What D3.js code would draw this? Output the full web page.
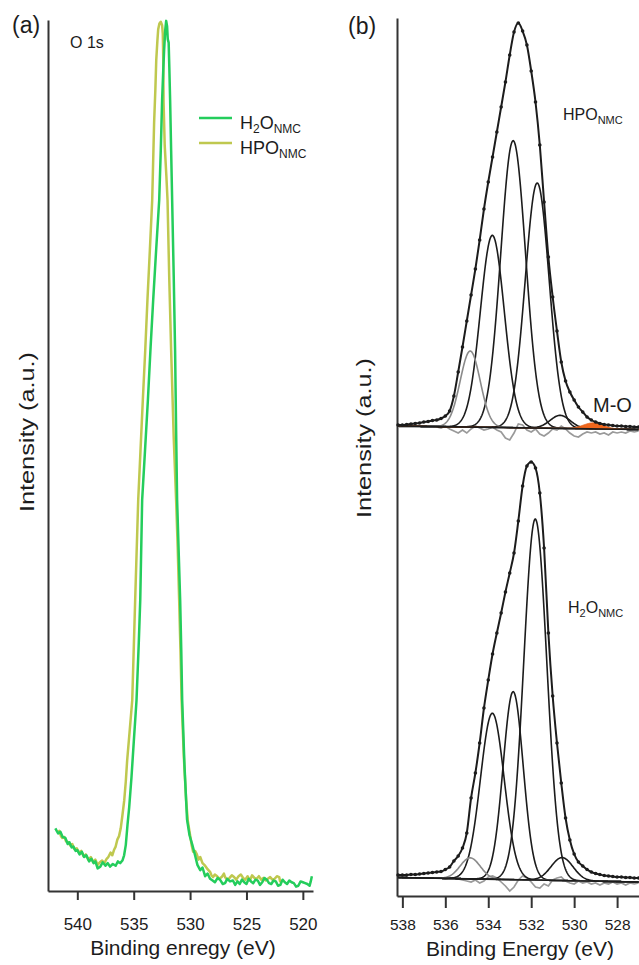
<!DOCTYPE html>
<html>
<head>
<meta charset="utf-8">
<script src="https://cdn.jsdelivr.net/npm/d3@7"></script>
<style>
  html, body { margin: 0; padding: 0; background: #fff; }
  svg { display: block; }
</style>
</head>
<body>
<svg id="fig" width="639" height="965"></svg>
<script>
// ---------- Panel (a): O 1s spectra of both electrodes ----------
const energyH2O = [541.95,541.7,541.5,541.3,541.06,540.85,540.7,540.5,540.35,540.15,540.0,539.8,539.6,539.4,539.2,538.95,538.75,538.55,538.4,538.2,537.96,537.75,537.5,537.3,537.1,536.85,536.6,536.4,536.2,536.0,535.85,535.7,535.55,535.4,535.2,535.0,534.75,534.55,534.42,534.25,534.0,533.74,533.5,533.27,533.0,532.74,532.6,532.48,532.38,532.3,532.2,532.12,532.04,531.98,531.9,531.84,531.77,531.68,531.59,531.45,531.33,531.24,531.15,531.0,530.88,530.78,530.7,530.5,530.27,530.05,529.8,529.56,529.35,529.1,528.9,528.67,528.45,528.23,528.0,527.8,527.55,527.35,527.1,526.9,526.7,526.46,526.2,526.0,525.8,525.6,525.4,525.2,525.0,524.8,524.6,524.4,524.2,524.0,523.8,523.6,523.4,523.2,523.0,522.8,522.6,522.4,522.2,522.0,521.8,521.6,521.4,521.2,521.0,520.8,520.6,520.4,520.2,520.0,519.8,519.6,519.4,519.3,519.2];
const intensityH2O = [7.2,6.6,6.8,6.2,6.1,5.4,5.6,5.0,5.1,4.6,4.7,4.2,4.5,3.9,4.1,3.4,3.7,3.2,3.4,2.6,2.8,3.3,2.9,3.2,2.8,3.1,2.9,3.4,3.2,3.5,4.1,5.3,7.6,9.6,13.0,17.0,21.9,28.5,33.4,44.9,50.5,56.4,62.5,67.9,73.8,79.3,85.0,90.8,94.2,96.6,98.9,99.9,99.3,97.8,97.4,94.5,90.8,85.0,79.3,70.5,62.1,53.0,44.9,38.5,33.4,27.5,21.9,14.5,8.2,6.4,5.3,4.1,3.0,2.4,2.7,1.7,2.0,1.4,1.2,1.0,1.5,1.3,0.8,0.9,1.4,1.1,1.2,0.7,1.1,0.8,1.3,1.0,0.8,1.4,1.1,0.9,1.3,1.2,0.7,1.0,1.5,1.3,0.9,0.8,1.2,1.1,0.6,0.7,1.3,1.0,0.8,1.2,1.0,0.9,0.5,0.6,1.1,1.0,0.9,0.8,0.6,1.1,1.7];

const energyHPO = [541.77,541.6,541.45,541.33,541.15,541.0,540.8,540.6,540.45,540.25,540.05,539.85,539.65,539.45,539.25,539.03,538.8,538.6,538.4,538.2,538.0,537.8,537.6,537.4,537.25,537.05,536.9,536.75,536.6,536.45,536.3,536.15,536.0,535.84,535.7,535.58,535.35,535.13,534.87,534.6,534.4,534.19,533.98,533.78,533.57,533.36,533.19,533.08,533.0,532.9,532.83,532.72,532.6,532.48,532.42,532.38,532.35,532.25,532.1,532.0,531.85,531.68,531.45,531.24,531.1,530.97,530.85,530.75,530.55,530.35,530.2,530.0,529.85,529.73,529.55,529.4,529.25,529.1,528.9,528.67,528.45,528.23,528.1,527.96,527.8,527.6,527.4,527.2,527.0,526.9,526.7,526.5,526.3,526.1,525.9,525.7,525.5,525.3,525.1,524.9,524.7,524.5,524.3,524.1,523.9,523.7,523.5,523.3,523.1,522.9,522.7,522.5,522.3,522.1,522.0];
const intensityHPO = [6.7,6.9,6.3,6.1,6.2,5.7,5.6,5.2,5.4,4.8,4.9,4.4,4.6,4.0,4.2,3.6,3.9,3.3,3.6,3.0,3.3,3.5,3.2,3.7,3.9,4.4,4.1,4.7,5.1,5.9,6.3,7.2,8.7,10.4,12.6,15.0,18.5,21.9,33.4,44.9,50.5,56.4,62.0,67.9,73.5,79.3,88.2,92.0,95.4,97.6,98.9,99.6,99.8,99.4,98.4,95.5,90.5,85.6,82.0,79.3,70.5,62.1,52.0,44.9,39.5,33.4,27.5,21.9,15.3,10.4,8.0,6.4,5.2,4.5,4.6,4.2,3.6,3.9,3.2,2.9,2.5,2.2,1.8,1.6,1.9,1.7,1.4,1.6,2.0,1.6,1.3,1.5,1.8,1.6,1.3,1.7,1.9,1.5,1.3,1.7,1.2,1.8,1.5,1.4,1.7,1.3,1.5,1.2,1.4,1.6,1.3,1.4,1.7,1.6,1.0];

const ticksA = [540, 535, 530, 525, 520];

// ---------- Panel (b): fitted O 1s spectra ----------
const energyFit = [538.2,538.0,537.8,537.6,537.4,537.2,537.0,536.8,536.6,536.4,536.2,536.0,535.8,535.6,535.4,535.2,535.0,534.8,534.6,534.4,534.2,534.0,533.8,533.6,533.4,533.2,533.0,532.8,532.6,532.4,532.2,532.0,531.8,531.6,531.4,531.2,531.0,530.8,530.6,530.4,530.2,530.0,529.8,529.6,529.4,529.2,529.0,528.8,528.6,528.4,528.2,528.0,527.8,527.6,527.4,527.2,527.0];

const envelopeHPO = [0.2,0.2,0.25,0.3,0.35,0.4,0.5,0.55,0.65,0.7,0.85,1.1,1.6,3.1,5.5,8.0,10.6,13.2,15.8,18.7,21.8,24.5,27.0,29.5,32.0,34.5,37.2,39.5,40.4,39.6,38.2,35.6,32.5,28.2,22.5,17.0,13.0,9.6,6.5,4.6,3.5,2.7,2.0,1.5,1.0,0.7,0.5,0.35,0.25,0.2,0.15,0.1,0.1,0.05,0.05,0,0];
const residualHPO = [0,0,0,0,0,0,0,0,0,0,-0.1,0.1,-0.2,-0.4,-0.6,-0.3,-0.6,-0.2,0.1,-0.1,-0.3,-0.2,0.0,-0.3,-0.5,-1.1,-1.3,-0.6,0.3,0.2,-0.3,-0.5,-0.2,-0.7,-0.9,-0.6,-0.2,-0.3,0.1,-0.2,-0.6,-0.9,-1.0,-0.7,-0.5,-0.6,-0.5,-0.7,-0.6,-0.8,-0.5,-0.6,-0.5,-0.6,-0.4,-0.5,-0.4];
const centresHPO = [532.84, 531.72, 533.81, 534.84, 530.65];
const heightsHPO = [28.7, 24.5, 19.2, 7.6, 1.3];
const fwhmHPO = [1.36, 1.31, 1.31, 1.1, 1.1];
const metalOxideHPO = { centre: 529.1, height: 0.6, fwhm: 1.1 };

const envelopeH2O = [0.3,0.3,0.3,0.35,0.35,0.4,0.45,0.5,0.55,0.6,0.65,0.85,1.1,1.7,2.2,3.0,4.5,8.0,10.5,13.5,17.0,19.8,22.4,24.5,26.5,28.6,30.5,32.5,35.7,39.2,41.2,41.6,41.0,38.5,33.0,24.5,18.2,13.5,9.5,6.0,3.8,2.4,1.6,1.2,0.85,0.6,0.45,0.35,0.25,0.2,0.15,0.1,0.1,0.05,0.05,0,0];
const residualH2O = [0,0,0,0,0,0,0,0,0,0,0,-0.1,0,0,-0.1,-0.2,-0.3,-0.4,-0.2,-0.5,-0.3,0.1,0.2,0.0,-0.4,-0.8,-1.3,-0.9,-0.2,0.2,0.0,-0.4,-0.9,-1.0,-0.6,-0.8,-0.2,0.0,0.1,-0.3,-0.5,-0.6,-0.3,-0.5,-0.4,-0.6,-0.5,-0.7,-0.5,-0.6,-0.4,-0.6,-0.5,-0.7,-0.5,-0.6,-0.5];
const centresH2O = [531.81, 532.84, 533.81, 534.84, 530.56];
const heightsH2O = [36.1, 18.8, 16.6, 2.1, 2.3];
const fwhmH2O = [1.26, 1.1, 1.3, 1.1, 1.2];

// vertical stacking of the two spectra and their Shirley-type background end values
const stackOffsets = [46.9, 1.8];            // HPO, H2O
const backgroundHPO = [0.1, -0.25];          // at 538.2 eV and 527.0 eV
const backgroundH2O = [0.05, -0.4];
const ticksB = [538, 536, 534, 532, 530, 528];

// ---------- drawing ----------
const FONT = "'Liberation Sans', Arial, Helvetica, sans-serif";
const INK = "#1c1c1c";
const AXIS = "#333";
const GREEN = "#24cd5c";
const OLIVE = "#bfc84f";
const svg = d3.select("#fig").attr("font-family", FONT);

function styleAxis(g, fs) {
  g.attr("font-family", FONT);
  g.select(".domain").attr("stroke", AXIS).attr("stroke-width", 2);
  g.selectAll(".tick line").attr("stroke", AXIS).attr("stroke-width", 2);
  g.selectAll(".tick text").attr("font-size", fs).attr("fill", INK);
}

// ----- panel (a) -----
const xA = d3.scaleLinear().domain([542.6, 519.1]).range([48, 313]);
const yA = d3.scaleLinear().domain([0, 100]).range([891, 20]);

svg.append("g").attr("transform", "translate(0,891)")
  .call(d3.axisBottom(xA).tickValues(ticksA).tickSize(9).tickSizeOuter(0).tickPadding(18).tickFormat(d3.format("d")))
  .call(g => styleAxis(g, 17));
svg.append("g").attr("transform", "translate(48,0)")
  .call(d3.axisLeft(yA).tickValues([]).tickSizeOuter(0))
  .call(g => styleAxis(g, 17));

const lineA = d3.line().x(d => xA(d[0])).y(d => yA(d[1]));
svg.append("path").datum(d3.zip(energyHPO, intensityHPO))
  .attr("d", lineA).attr("fill", "none").attr("stroke", OLIVE).attr("stroke-width", 2.5).attr("stroke-linejoin", "round");
svg.append("path").datum(d3.zip(energyH2O, intensityH2O))
  .attr("d", lineA).attr("fill", "none").attr("stroke", GREEN).attr("stroke-width", 2.5).attr("stroke-linejoin", "round");

svg.append("text").attr("x", 12).attr("y", 33).attr("font-size", 23).attr("fill", INK).text("(a)");
svg.append("text").attr("x", 70).attr("y", 48).attr("font-size", 16).attr("fill", INK).text("O 1s");

// legend
function subLabel(sel, parts, size, subSize) {
  parts.forEach(([txt, isSub], i) => {
    const prevSub = i > 0 && parts[i - 1][1];
    const dy = isSub && !prevSub ? 4 : (!isSub && prevSub ? -4 : 0);
    sel.append("tspan").attr("font-size", isSub ? subSize : size).attr("dy", dy).text(txt);
  });
}
const legend = [
  { colour: GREEN, parts: [["H", false], ["2", true], ["O", false], ["NMC", true]], y: 118 },
  { colour: OLIVE, parts: [["HPO", false], ["NMC", true]], y: 143 }
];
legend.forEach(l => {
  svg.append("line").attr("x1", 199).attr("x2", 232).attr("y1", l.y).attr("y2", l.y)
    .attr("stroke", l.colour).attr("stroke-width", 2.5);
  const t = svg.append("text").attr("x", 240).attr("y", l.y + 11).attr("fill", INK);
  subLabel(t, l.parts, 18, 12);
});

svg.append("text").attr("transform", "translate(34,432) rotate(-90)")
  .attr("text-anchor", "middle").attr("font-size", 21).attr("fill", INK)
  .attr("textLength", 160).attr("lengthAdjust", "spacingAndGlyphs").text("Intensity (a.u.)");
svg.append("text").attr("x", 183).attr("y", 955).attr("text-anchor", "middle")
  .attr("font-size", 21).attr("fill", INK).text("Binding enregy (eV)");

// ----- panel (b) -----
const xB = d3.scaleLinear().domain([538.25, 526.98]).range([397, 639]);
const yB = d3.scaleLinear().domain([0, 87.8]).range([896, 18]);

svg.append("g").attr("transform", "translate(0,896)")
  .call(d3.axisBottom(xB).tickValues(ticksB).tickSize(12).tickSizeOuter(0).tickPadding(11).tickFormat(d3.format("d")))
  .call(g => styleAxis(g, 15.5));
svg.append("g").attr("transform", "translate(397,0)")
  .call(d3.axisLeft(yB).tickValues([]).tickSizeOuter(0))
  .call(g => styleAxis(g, 15.5));

const fitGrid = d3.range(0, 561).map(i => 538.2 - i * 0.02);
const gaussian = (e, c, w, h) => h * Math.exp(-4 * Math.LN2 * (e - c) * (e - c) / (w * w));
const lineB = d3.line().x(d => xB(d[0])).y(d => yB(d[1]));

function drawSpectrum(offset, envelope, residual, centres, heights, fwhms, bgEnds, greyIndex, extra) {
  const bg = d3.scaleLinear().domain([538.2, 527.0]).range(bgEnds);
  const g = svg.append("g");

  // residual of the fit
  g.append("path").datum(energyFit.map((e, i) => [e, offset + residual[i]]))
    .attr("d", lineB).attr("fill", "none").attr("stroke", "#9a9a9a").attr("stroke-width", 1.7);

  // fitted components
  centres.forEach((c, k) => {
    const pts = fitGrid.map(e => [e, offset + bg(e) + gaussian(e, c, fwhms[k], heights[k])]);
    g.append("path").datum(pts).attr("d", lineB).attr("fill", "none")
      .attr("stroke", k === greyIndex ? "#8a8a8a" : INK).attr("stroke-width", 1.6);
  });

  // metal–oxide component, filled
  if (extra) {
    const area = d3.area().x(d => xB(d[0])).y0(d => yB(d[1])).y1(d => yB(d[2]));
    const pts = fitGrid.map(e => [e, offset + bg(e), offset + bg(e) + gaussian(e, extra.centre, extra.fwhm, extra.height)]);
    g.append("path").datum(pts).attr("d", area).attr("fill", "#f0661c").attr("stroke", "#e25a10").attr("stroke-width", 0.8);
  }

  // background
  g.append("path").datum([[538.2, offset + bgEnds[0]], [527.0, offset + bgEnds[1]]])
    .attr("d", lineB).attr("fill", "none").attr("stroke", INK).attr("stroke-width", 1.6);

  // envelope and measured points
  const pts = energyFit.map((e, i) => [e, offset + envelope[i]]);
  g.append("path").datum(pts).attr("d", lineB.curve(d3.curveMonotoneX)).attr("fill", "none")
    .attr("stroke", INK).attr("stroke-width", 2);
  lineB.curve(d3.curveLinear);
  g.selectAll("circle").data(pts).join("circle")
    .attr("cx", d => xB(d[0])).attr("cy", d => yB(d[1])).attr("r", 1.8).attr("fill", INK);
}

drawSpectrum(stackOffsets[0], envelopeHPO, residualHPO, centresHPO, heightsHPO, fwhmHPO, backgroundHPO, 3, metalOxideHPO);
drawSpectrum(stackOffsets[1], envelopeH2O, residualH2O, centresH2O, heightsH2O, fwhmH2O, backgroundH2O, 3, null);

svg.append("text").attr("x", 348).attr("y", 34).attr("font-size", 23).attr("fill", INK).text("(b)");
const hpoLabel = svg.append("text").attr("x", 563).attr("y", 120).attr("fill", INK);
subLabel(hpoLabel, [["HPO", false], ["NMC", true]], 16, 11);
const h2oLabel = svg.append("text").attr("x", 568).attr("y", 613).attr("fill", INK);
subLabel(h2oLabel, [["H", false], ["2", true], ["O", false], ["NMC", true]], 16, 11);
svg.append("text").attr("x", 593).attr("y", 412).attr("font-size", 20).attr("fill", INK).text("M-O");

svg.append("text").attr("transform", "translate(371,438) rotate(-90)")
  .attr("text-anchor", "middle").attr("font-size", 21).attr("fill", INK)
  .attr("textLength", 160).attr("lengthAdjust", "spacingAndGlyphs").text("Intensity (a.u.)");
svg.append("text").attr("x", 520).attr("y", 956).attr("text-anchor", "middle")
  .attr("font-size", 21).attr("fill", INK).text("Binding Energy (eV)");
</script>
</body>
</html>
